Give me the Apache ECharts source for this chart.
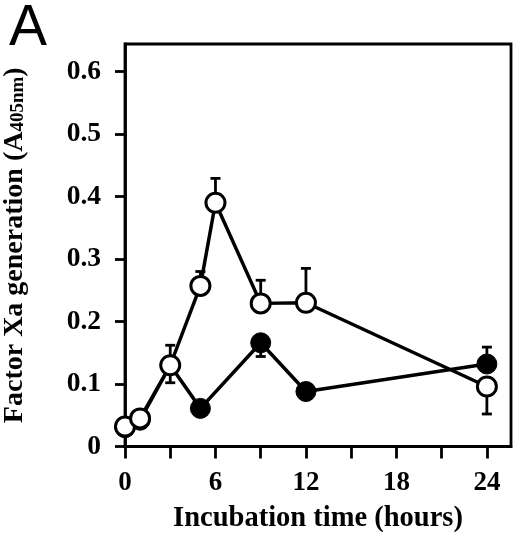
<!DOCTYPE html>
<html>
<head>
<meta charset="utf-8">
<script src="https://cdn.jsdelivr.net/npm/echarts@6/dist/echarts.min.js"></script>
<style>
html,body{margin:0;padding:0;background:#fff;}
#chart{width:520px;height:541px;}
</style>
</head>
<body>
<div id="chart"></div>
<script>
// Open circles
const openHours = [0, 1, 3, 5, 6, 9, 12, 24];
const openValues = [0.032, 0.045, 0.13, 0.257, 0.39, 0.229, 0.23, 0.096];
const openErrUp = [0, 0, 0.032, 0.023, 0.039, 0.037, 0.055, 0];
const openErrDown = [0, 0, 0.028, 0, 0, 0, 0, 0.044];
// Filled circles
const filledHours = [0, 1, 3, 5, 9, 12, 24];
const filledValues = [0.03, 0.042, 0.13, 0.061, 0.166, 0.088, 0.132];
const filledErrUp = [0, 0, 0, 0, 0, 0, 0.027];
const filledErrDown = [0, 0, 0, 0, 0.022, 0, 0];
// Axis ticks
const xTickValues = [0, 3, 6, 9, 12, 15, 18, 21, 24];
const xLabelValues = [0, 6, 12, 18, 24];
const yTickValues = [0, 0.1, 0.2, 0.3, 0.4, 0.5, 0.6];

const serif = '"Liberation Serif", "Times New Roman", serif';

function pairs(xs, ys) { return xs.map((x, i) => [x, ys[i]]); }
function errData(xs, ys, up, down) {
  return xs.map((x, i) => [x, ys[i], up[i], down[i]]);
}

function errorBarRender(params, api) {
  const x = api.value(0), y = api.value(1), up = api.value(2), down = api.value(3);
  const children = [];
  const cap = 5;
  const style = { stroke: '#000', lineWidth: 2.8 };
  if (up > 0) {
    const p0 = api.coord([x, y]);
    const p1 = api.coord([x, y + up]);
    children.push({ type: 'line', shape: { x1: p0[0], y1: p0[1], x2: p1[0], y2: p1[1] }, style });
    children.push({ type: 'line', shape: { x1: p1[0] - cap, y1: p1[1], x2: p1[0] + cap, y2: p1[1] }, style });
  }
  if (down > 0) {
    const p0 = api.coord([x, y]);
    const p1 = api.coord([x, y - down]);
    children.push({ type: 'line', shape: { x1: p0[0], y1: p0[1], x2: p1[0], y2: p1[1] }, style });
    children.push({ type: 'line', shape: { x1: p1[0] - cap, y1: p1[1], x2: p1[0] + cap, y2: p1[1] }, style });
  }
  return { type: 'group', children };
}

const chart = echarts.init(document.getElementById('chart'), null, { renderer: 'canvas' });
chart.setOption({
  animation: false,
  backgroundColor: '#fff',
  grid: {
    left: 125, right: 9, top: 44, bottom: 94.5,
    outerBoundsMode: 'none', containLabel: false,
    show: true, borderColor: '#000', borderWidth: 2.8, backgroundColor: 'transparent'
  },
  graphic: [{
    type: 'text', left: 9, top: 1,
    style: { text: 'A', font: '57px "Liberation Sans", Arial, sans-serif', fill: '#000' }
  }],
  xAxis: {
    type: 'value', min: 0, max: 25.6,
    axisLine: { show: true, onZero: false, lineStyle: { color: '#000', width: 2.8 } },
    axisTick: { show: true, inside: false, length: 12, customValues: xTickValues, lineStyle: { color: '#000', width: 2.8 } },
    axisLabel: { customValues: xLabelValues, margin: 23, color: '#000', fontFamily: serif, fontWeight: 'bold', fontSize: 27 },
    splitLine: { show: false },
    name: 'Incubation time (hours)', nameLocation: 'middle', nameGap: 58,
    nameTextStyle: { color: '#000', fontFamily: serif, fontWeight: 'bold', fontSize: 28.5 }
  },
  yAxis: {
    type: 'value', min: 0, max: 0.644,
    axisLine: { show: true, onZero: false, lineStyle: { color: '#000', width: 2.8 } },
    axisTick: { show: true, inside: false, length: 10, customValues: yTickValues, lineStyle: { color: '#000', width: 2.8 } },
    axisLabel: { customValues: yTickValues, margin: 24, color: '#000', fontFamily: serif, fontWeight: 'bold', fontSize: 27.5,
      formatter: v => v === 0 ? '0' : v.toFixed(1) },
    splitLine: { show: false },
    name: '{m|Factor Xa generation (A}{s|405nm}{m|)}', nameLocation: 'middle', nameGap: 96, nameRotate: 90,
    nameTextStyle: {
      color: '#000',
      rich: {
        m: { fontFamily: serif, fontWeight: 'bold', fontSize: 28, color: '#000' },
        s: { fontFamily: serif, fontWeight: 'bold', fontSize: 19, color: '#000', padding: [6, 0, 0, 0] }
      }
    }
  },
  series: [
    {
      type: 'custom', renderItem: errorBarRender, z: 1,
      data: errData(filledHours, filledValues, filledErrUp, filledErrDown)
    },
    {
      type: 'custom', renderItem: errorBarRender, z: 1,
      data: errData(openHours, openValues, openErrUp, openErrDown)
    },
    {
      type: 'line', z: 2, data: pairs(filledHours, filledValues),
      symbol: 'circle', symbolSize: 20, showAllSymbol: true,
      lineStyle: { color: '#000', width: 3.5 },
      itemStyle: { color: '#000', borderColor: '#000', borderWidth: 1 }
    },
    {
      type: 'line', z: 3, data: pairs(openHours, openValues),
      symbol: 'circle', symbolSize: 19, showAllSymbol: true,
      lineStyle: { color: '#000', width: 3.5 },
      itemStyle: { color: '#fff', borderColor: '#000', borderWidth: 3 }
    }
  ]
});
</script>
</body>
</html>
